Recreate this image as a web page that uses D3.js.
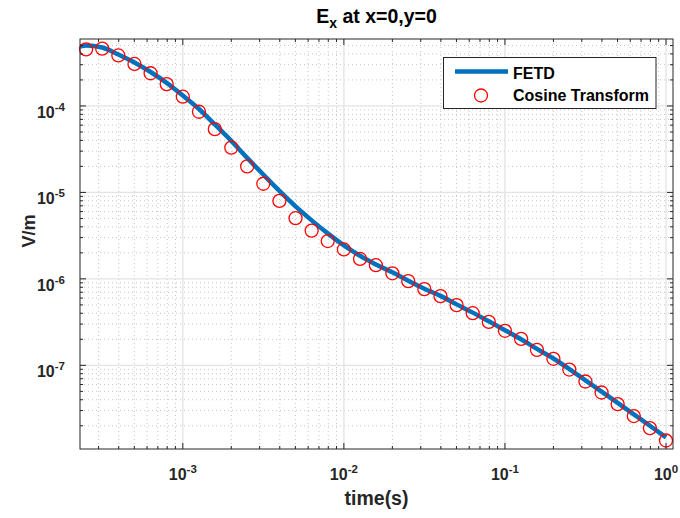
<!DOCTYPE html>
<html>
<head>
<meta charset="utf-8">
<script src="https://cdn.jsdelivr.net/npm/d3@7"></script>
<style>
  html, body { margin: 0; padding: 0; background: #fff; }
  svg { display: block; font-family: "Liberation Sans", Arial, Helvetica, sans-serif; font-weight: bold; }
</style>
</head>
<body>
<svg id="chart" width="680" height="518"></svg>
<script>
// ── Data ──────────────────────────────────────────────────────────────────────

const cosTime = [
  2.51e-4, 3.16e-4, 3.98e-4, 5.01e-4, 6.31e-4, 7.94e-4,
  1.00e-3, 1.26e-3, 1.58e-3, 2.00e-3, 2.51e-3, 3.16e-3, 3.98e-3, 5.01e-3, 6.31e-3, 7.94e-3,
  1.00e-2, 1.26e-2, 1.58e-2, 2.00e-2, 2.51e-2, 3.16e-2, 3.98e-2, 5.01e-2, 6.31e-2, 7.94e-2,
  1.00e-1, 1.26e-1, 1.58e-1, 2.00e-1, 2.51e-1, 3.16e-1, 3.98e-1, 5.01e-1, 6.31e-1, 7.94e-1,
  1.00
];
const cosValue = [
  4.52e-4, 4.60e-4, 3.84e-4, 3.06e-4, 2.39e-4, 1.79e-4,
  1.28e-4, 8.57e-5, 5.39e-5, 3.30e-5, 2.00e-5, 1.26e-5, 7.98e-6, 5.03e-6, 3.62e-6, 2.74e-6,
  2.19e-6, 1.70e-6, 1.44e-6, 1.16e-6, 9.41e-7, 7.60e-7, 6.31e-7, 4.97e-7, 4.01e-7, 3.18e-7,
  2.51e-7, 2.02e-7, 1.51e-7, 1.19e-7, 8.94e-8, 6.50e-8, 4.85e-8, 3.56e-8, 2.59e-8, 1.88e-8,
  1.35e-8
];

const fetdTime = [2.30e-4].concat(cosTime);
const fetdValue = [
  4.88e-4,
  5.01e-4, 4.75e-4, 3.94e-4, 3.18e-4, 2.47e-4, 1.85e-4,
  1.32e-4, 9.23e-5, 6.11e-5, 3.94e-5, 2.51e-5, 1.61e-5, 1.04e-5, 6.89e-6, 4.75e-6, 3.36e-6,
  2.44e-6, 1.85e-6, 1.47e-6, 1.19e-6, 9.53e-7, 7.70e-7, 6.36e-7, 5.07e-7, 4.07e-7, 3.23e-7,
  2.55e-7, 2.00e-7, 1.55e-7, 1.20e-7, 9.06e-8, 6.71e-8, 4.97e-8, 3.68e-8, 2.71e-8, 2.00e-8,
  1.47e-8
];

const xMajor = [1e-3, 1e-2, 1e-1, 1];
const xMajorExp = ['-3', '-2', '-1', '0'];
const yMajor = [1e-4, 1e-5, 1e-6, 1e-7];
const yMajorExp = ['-4', '-5', '-6', '-7'];

const xLim = [2.30e-4, 1.105];
const yLim = [1.077e-8, 5.95e-4];

const seriesNames = ['FETD', 'Cosine Transform'];

// ── Layout ────────────────────────────────────────────────────────────────────

const plot = { left: 80, right: 673, top: 39, bottom: 449 };
const AXIS = '#262626';

const svg = d3.select('#chart');

const x = d3.scaleLog().domain(xLim).range([plot.left, plot.right]);
const y = d3.scaleLog().domain(yLim).range([plot.bottom, plot.top]);

// minor positions: 2..9 x every decade inside the limits
function minorTicks(lim) {
  const out = [];
  for (let e = Math.floor(Math.log10(lim[0])); e <= Math.ceil(Math.log10(lim[1])); e++) {
    for (let m = 2; m <= 9; m++) {
      const v = m * Math.pow(10, e);
      if (v > lim[0] && v < lim[1]) out.push(v);
    }
  }
  return out;
}
const xMinor = minorTicks(xLim);
const yMinor = minorTicks(yLim);

// ── Grid ──────────────────────────────────────────────────────────────────────

const grid = svg.append('g');

grid.selectAll('.xminor').data(xMinor).join('line')
  .attr('x1', d => x(d)).attr('x2', d => x(d))
  .attr('y1', plot.top).attr('y2', plot.bottom)
  .attr('stroke', '#c6c6c6').attr('stroke-width', 1).attr('stroke-dasharray', '1,3');
grid.selectAll('.yminor').data(yMinor).join('line')
  .attr('y1', d => y(d)).attr('y2', d => y(d))
  .attr('x1', plot.left).attr('x2', plot.right)
  .attr('stroke', '#c6c6c6').attr('stroke-width', 1).attr('stroke-dasharray', '1,3');

grid.selectAll('.xmajor').data(xMajor).join('line')
  .attr('x1', d => x(d)).attr('x2', d => x(d))
  .attr('y1', plot.top).attr('y2', plot.bottom)
  .attr('stroke', '#e3e3e3').attr('stroke-width', 1.3);
grid.selectAll('.ymajor').data(yMajor).join('line')
  .attr('y1', d => y(d)).attr('y2', d => y(d))
  .attr('x1', plot.left).attr('x2', plot.right)
  .attr('stroke', '#e3e3e3').attr('stroke-width', 1.3);

// ── Series ────────────────────────────────────────────────────────────────────

svg.append('clipPath').attr('id', 'clip').append('rect')
  .attr('x', plot.left).attr('y', plot.top)
  .attr('width', plot.right - plot.left).attr('height', plot.bottom - plot.top);

const fetd = fetdTime.map((t, i) => [t, fetdValue[i]]);
const cos  = cosTime.map((t, i) => [t, cosValue[i]]);

const line = d3.line().x(d => x(d[0])).y(d => y(d[1])).curve(d3.curveMonotoneX);

svg.append('path')
  .datum(fetd)
  .attr('clip-path', 'url(#clip)')
  .attr('d', line)
  .attr('fill', 'none')
  .attr('stroke', '#0072BD')
  .attr('stroke-width', 4.5)
  .attr('stroke-linejoin', 'round');

svg.append('g').selectAll('circle').data(cos).join('circle')
  .attr('cx', d => x(d[0])).attr('cy', d => y(d[1]))
  .attr('r', 6.5)
  .attr('fill', 'none')
  .attr('stroke', '#ff0000')
  .attr('stroke-width', 1.3);

// ── Axes box and ticks ────────────────────────────────────────────────────────

const axes = svg.append('g').attr('stroke', AXIS).attr('stroke-width', 1);

axes.append('rect')
  .attr('x', plot.left).attr('y', plot.top)
  .attr('width', plot.right - plot.left).attr('height', plot.bottom - plot.top)
  .attr('fill', 'none');

function xTicks(vals, len) {
  axes.selectAll(null).data(vals).join('line')
    .attr('x1', d => x(d)).attr('x2', d => x(d))
    .attr('y1', plot.bottom).attr('y2', plot.bottom - len);
  axes.selectAll(null).data(vals).join('line')
    .attr('x1', d => x(d)).attr('x2', d => x(d))
    .attr('y1', plot.top).attr('y2', plot.top + len);
}
function yTicks(vals, len) {
  axes.selectAll(null).data(vals).join('line')
    .attr('y1', d => y(d)).attr('y2', d => y(d))
    .attr('x1', plot.left).attr('x2', plot.left + len);
  axes.selectAll(null).data(vals).join('line')
    .attr('y1', d => y(d)).attr('y2', d => y(d))
    .attr('x1', plot.right).attr('x2', plot.right - len);
}
xTicks(xMajor, 6); xTicks(xMinor, 3);
yTicks(yMajor, 6); yTicks(yMinor, 3);

// tick labels "10^n"
const xl = svg.append('g').selectAll('text').data(xMajor).join('text')
  .attr('x', d => x(d)).attr('y', 480)
  .attr('text-anchor', 'middle')
  .attr('fill', AXIS).attr('font-size', 16);
xl.append('tspan').text('10');
xl.append('tspan').attr('dy', -7).attr('font-size', 11.5).text((d, i) => xMajorExp[i]);

const yl = svg.append('g').selectAll('text').data(yMajor).join('text')
  .attr('x', 65).attr('y', d => y(d) + 12)
  .attr('text-anchor', 'end')
  .attr('fill', AXIS).attr('font-size', 16);
yl.append('tspan').text('10');
yl.append('tspan').attr('dy', -7).attr('font-size', 11.5).text((d, i) => yMajorExp[i]);

// ── Titles ────────────────────────────────────────────────────────────────────

const title = svg.append('text')
  .attr('x', (plot.left + plot.right) / 2).attr('y', 23)
  .attr('text-anchor', 'middle').attr('fill', '#000').attr('font-size', 19.5);
title.append('tspan').text('E');
title.append('tspan').attr('dy', 5).attr('font-size', 14).text('x');
title.append('tspan').attr('dy', -5).text(' at x=0,y=0');

svg.append('text')
  .attr('x', (plot.left + plot.right) / 2).attr('y', 505)
  .attr('text-anchor', 'middle').attr('fill', AXIS).attr('font-size', 19.5)
  .text('time(s)');

svg.append('text')
  .attr('transform', 'translate(35,231) rotate(-90)')
  .attr('text-anchor', 'middle').attr('fill', AXIS).attr('font-size', 18)
  .text('V/m');

// ── Legend ────────────────────────────────────────────────────────────────────

const lg = svg.append('g');
lg.append('rect')
  .attr('x', 443.5).attr('y', 57.5).attr('width', 212.5).attr('height', 51)
  .attr('fill', '#fff').attr('stroke', AXIS).attr('stroke-width', 1);
lg.append('line')
  .attr('x1', 455).attr('x2', 508).attr('y1', 71.5).attr('y2', 71.5)
  .attr('stroke', '#0072BD').attr('stroke-width', 4.5);
lg.append('circle')
  .attr('cx', 481).attr('cy', 95.5).attr('r', 6.5)
  .attr('fill', 'none').attr('stroke', '#ff0000').attr('stroke-width', 1.3);
lg.selectAll('text.lab').data(seriesNames).join('text')
  .attr('class', 'lab')
  .attr('x', 513).attr('y', (d, i) => i ? 101 : 79)
  .attr('fill', '#000').attr('font-size', 16)
  .text(d => d);
</script>
</body>
</html>
